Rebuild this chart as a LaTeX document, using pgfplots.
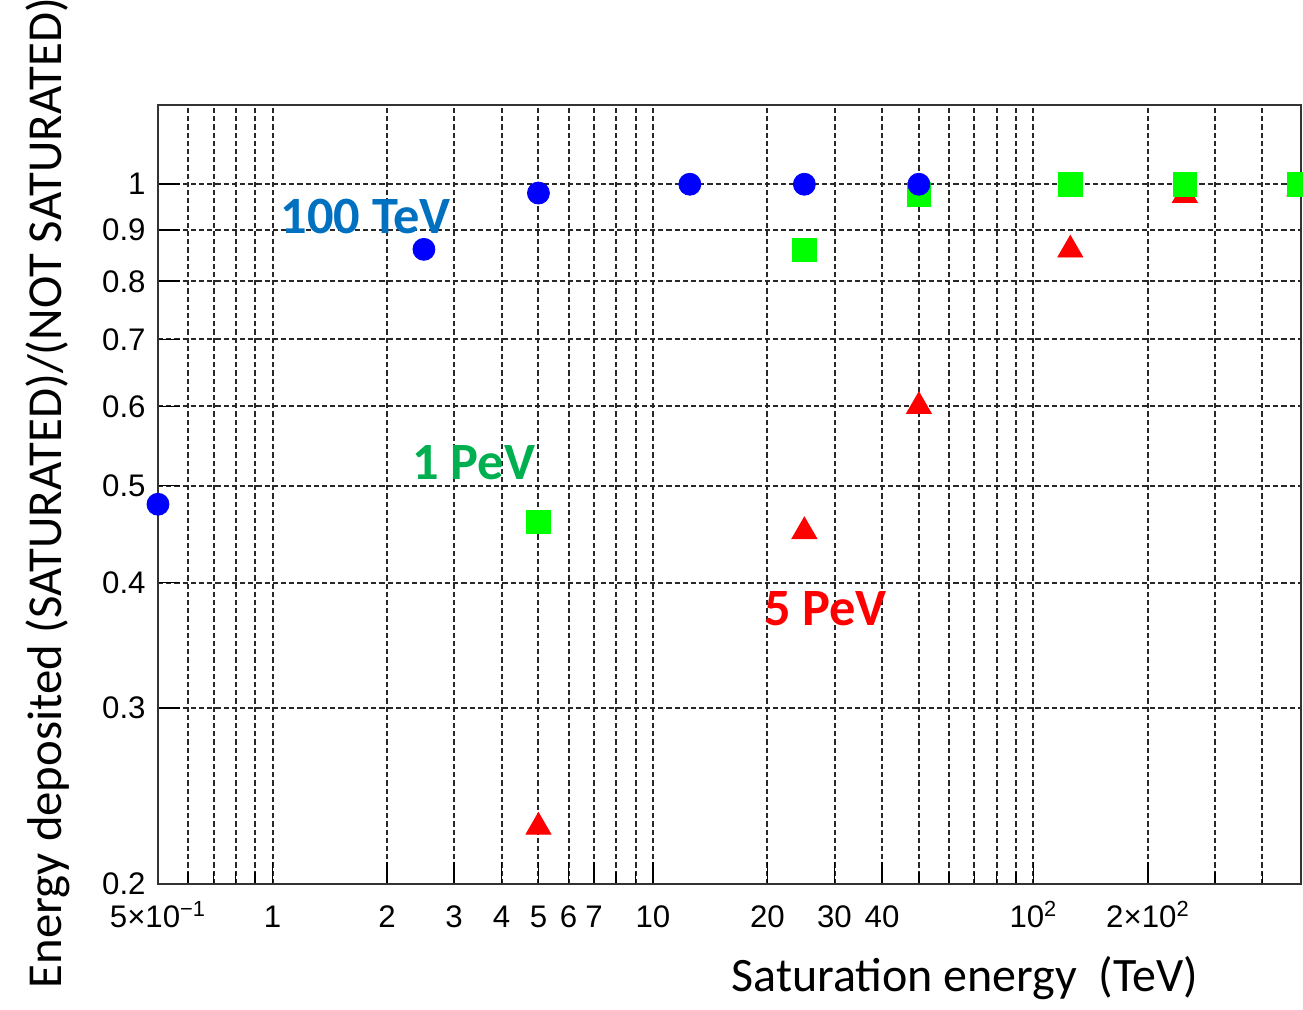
\documentclass[border=0pt]{standalone}
\usepackage{fontspec}
\setmainfont{Liberation Sans}
\newfontfamily\calibri{Carlito}
\usepackage{pgfplots}
\pgfplotsset{compat=1.18}
\definecolor{mblue}{RGB}{0,0,255}
\definecolor{mgreen}{RGB}{0,255,0}
\definecolor{mred}{RGB}{255,0,0}
\definecolor{tblue}{RGB}{0,112,192}
\definecolor{tgreen}{RGB}{0,176,80}
\definecolor{tred}{RGB}{255,0,0}
\definecolor{gridc}{RGB}{40,40,40}
\begin{document}
\begin{tikzpicture}
\begin{axis}[
  at={(0,0)}, anchor=south west,
  scale only axis, width=571.5bp, height=389.5bp,
  xmode=log, ymode=log,
  xmin=0.5, xmax=505, ymin=0.2, ymax=1.2,
  axis line style={draw=black!80, line width=1bp},
  xtick={0.5,1,2,3,4,5,6,7,10,20,30,40,100,200},
  xticklabels={5×10\textsuperscript{−1},1,2,3,4,5,6,7,10,20,30,40,10\textsuperscript{2},2×10\textsuperscript{2}},
  minor xtick={0.6,0.7,0.8,0.9,8,9,50,60,70,80,90,300,400},
  ytick={0.2,0.3,0.4,0.5,0.6,0.7,0.8,0.9,1},
  yticklabels={0.2,0.3,0.4,0.5,0.6,0.7,0.8,0.9,1},
  minor ytick={},
  xtick pos=bottom, ytick pos=left, tick align=inside,
  major tick length=11bp, minor tick length=6bp,
  every tick/.style={black, line width=0.8bp},
  grid=both,
  major grid style={gridc, line width=1bp, dash pattern=on 2.6bp off 1.5bp},
  minor grid style={gridc, line width=1bp, dash pattern=on 2.6bp off 1.5bp},
  xticklabel style={font=\fontsize{15.6bp}{18bp}\selectfont, anchor=base, yshift=-21.5bp, inner sep=0pt},
  yticklabel style={font=\fontsize{15.6bp}{18bp}\selectfont, anchor=east, inner sep=0pt, xshift=-6bp},
  xlabel={Saturation energy\ \ (TeV)},
  ylabel={Energy deposited (SATURATED)/(NOT SATURATED)},
  every axis x label/.style={font=\calibri\fontsize{24bp}{28bp}\selectfont, at={(rel axis cs:0.706,0)}, anchor=base, yshift=-53.5bp, inner sep=0pt},
  every axis y label/.style={font=\calibri\fontsize{24.4bp}{28bp}\selectfont, at={(rel axis cs:-0.0845,0.5018)}, rotate=90, anchor=base, inner sep=0pt},
  clip=false,
]
\addplot[only marks, mark=triangle*, mark size=7.2bp, mred, mark options={draw=mred, fill=mred}] coordinates {
 (5,0.228) (25,0.45) (50,0.60) (125,0.86) (250,0.975) (500,0.99)
};
\addplot[only marks, mark=square*, mark size=5.85bp, mgreen, mark options={draw=mgreen, fill=mgreen}] coordinates {
 (5,0.46) (25,0.86) (50,0.977) (125,1.0) (250,1.0) (500,1.0)
};
\addplot[only marks, mark=*, mark size=5.5bp, mblue, mark options={draw=mblue, fill=mblue}] coordinates {
 (0.5,0.479) (2.5,0.861) (5,0.98) (12.5,1.0) (25,1.0) (50,1.0)
};
\node[font=\calibri\bfseries\fontsize{26.2bp}{30bp}\selectfont, text=tblue, inner sep=0pt] at (axis cs:1.757,0.929) {100 TeV};
\node[font=\calibri\bfseries\fontsize{26.2bp}{30bp}\selectfont, text=tgreen, inner sep=0pt] at (axis cs:3.38,0.527) {1 PeV};
\node[font=\calibri\bfseries\fontsize{26.2bp}{30bp}\selectfont, text=tred, inner sep=0pt] at (axis cs:28.4,0.377) {5 PeV};
\end{axis}
\pgfresetboundingbox
\path[use as bounding box] (-79bp,-63bp) rectangle (572.5bp,442bp);
\end{tikzpicture}
\end{document}
